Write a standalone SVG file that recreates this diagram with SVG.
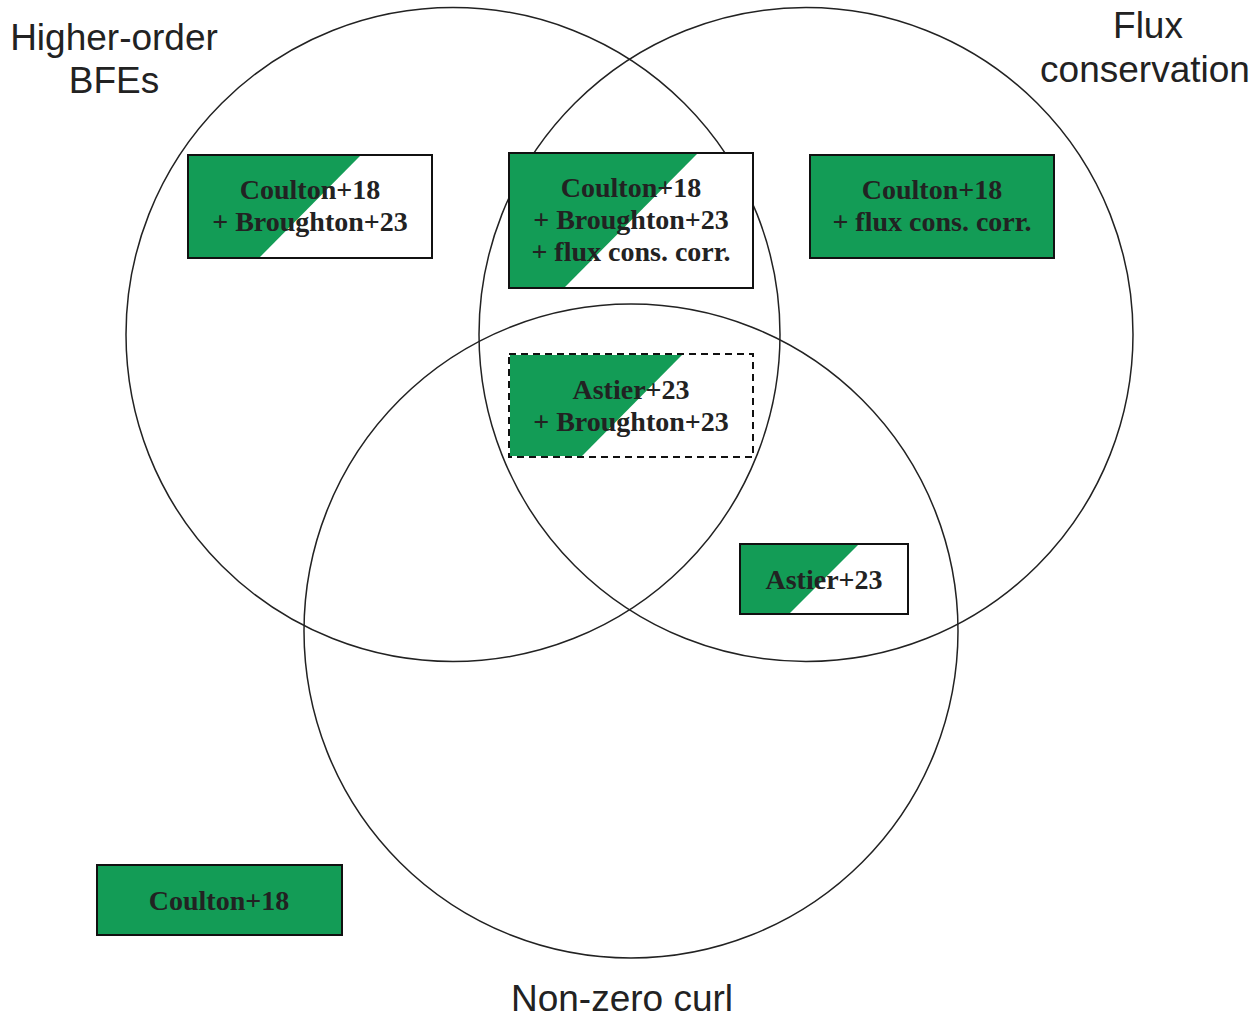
<svg xmlns="http://www.w3.org/2000/svg" width="1260" height="1017" viewBox="0 0 1260 1017">
<style>
.circ{fill:none;stroke:#222;stroke-width:1.5}
.box{fill:#fff;stroke:#111;stroke-width:2}
.dash{stroke-dasharray:7 5}
.g{fill:#139c56}
.bt{font-family:"Liberation Serif","Times New Roman",serif;font-weight:bold;font-size:28px;fill:#222;text-anchor:middle}
.lab{font-family:"Liberation Sans",Arial,sans-serif;font-size:37px;fill:#222;text-anchor:middle}
</style>
<rect width="1260" height="1017" fill="#fff"/>
<g id="sets">
<circle id="set-hobfe" class="circ" cx="453" cy="334.5" r="327"/>
<circle id="set-flux" class="circ" cx="806" cy="334.5" r="327"/>
<circle id="set-curl" class="circ" cx="631" cy="631" r="327"/>
</g>
<g id="labels">
<text class="lab" x="114" y="50">Higher-order</text>
<text class="lab" x="114" y="93">BFEs</text>
<text class="lab" x="1148" y="38">Flux</text>
<text class="lab" x="1145" y="82">conservation</text>
<text class="lab" x="622" y="1011">Non-zero curl</text>
</g>
<g id="connectors"></g>
<g id="n1">
<rect class="box" x="188" y="155" width="244" height="103"/>
<polygon class="g" points="189,156 360,156 260,257 189,257"/>
<text class="bt" x="310" y="199">Coulton+18</text>
<text class="bt" x="310" y="231">+ Broughton+23</text>
</g>
<g id="n2">
<rect class="box" x="509" y="153" width="244" height="135"/>
<polygon class="g" points="510,154 697,154 565,287 510,287"/>
<text class="bt" x="631" y="197">Coulton+18</text>
<text class="bt" x="631" y="229">+ Broughton+23</text>
<text class="bt" x="631" y="261">+ flux cons. corr.</text>
</g>
<g id="n3">
<rect class="box dash" x="509" y="354" width="244" height="103"/>
<polygon class="g" points="510,355 682,355 582,456 510,456"/>
<text class="bt" x="631" y="399">Astier+23</text>
<text class="bt" x="631" y="431">+ Broughton+23</text>
</g>
<g id="n4">
<rect class="box" x="740" y="544" width="168" height="70"/>
<polygon class="g" points="741,545 858,545 790,613 741,613"/>
<text class="bt" x="824" y="589">Astier+23</text>
</g>
<g id="n5">
<rect class="box" x="810" y="155" width="244" height="103" style="fill:#139c56"/>
<text class="bt" x="932" y="199">Coulton+18</text>
<text class="bt" x="932" y="231">+ flux cons. corr.</text>
</g>
<g id="n6">
<rect class="box" x="97" y="865" width="245" height="70" style="fill:#139c56"/>
<text class="bt" x="219" y="910">Coulton+18</text>
</g>
</svg>
